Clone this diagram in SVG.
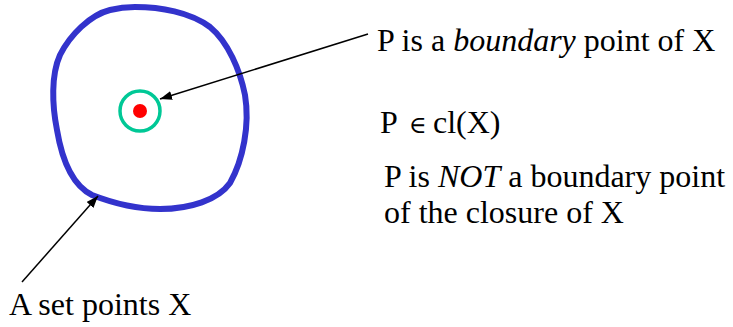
<svg xmlns="http://www.w3.org/2000/svg" width="733" height="327" viewBox="0 0 733 327">
<defs>
<style>
text{font-family:'Liberation Serif','DejaVu Serif',serif;font-size:32px;fill:#000}
.conn{stroke:#000;stroke-width:1.5;fill:none;marker-end:url(#ah)}
</style>
<marker id="ah" markerUnits="userSpaceOnUse" markerWidth="14" markerHeight="10" refX="12" refY="4.5" orient="auto">
<path d="M0,0 L12,4.5 L0,9 Z" fill="#000"/>
</marker>
</defs>
<rect width="733" height="327" fill="#fff"/>
<g id="setX">
<path d="M135,7 C160,7 190,12 210,27 C228,42 240,70 245,95 C250,125 243,160 230,183 C218,200 190,209 160,209 C135,209 110,202 92,195 C72,185 62,160 57,130 C52,105 51,75 60,55 C70,35 90,15 110,10 C118,8 126,7 135,7 Z" fill="none" stroke="#3333cc" stroke-width="6"/>
</g>
<g id="pointP">
<circle cx="140" cy="111" r="20" fill="none" stroke="#00c896" stroke-width="3.5"/>
<circle cx="140" cy="111" r="7" fill="#ff0000"/>
</g>
<g id="connectors">
<line class="conn" x1="368" y1="34" x2="160" y2="99"/>
<line class="conn" x1="22" y1="282" x2="98" y2="196"/>
</g>
<g id="label-boundary">
<text x="377" y="51" font-family="Liberation Serif, DejaVu Serif, serif">P is a <tspan font-style="italic">boundary</tspan> point of X</text>
</g>
<g id="label-closure">
<text x="380" y="133" font-family="Liberation Serif, DejaVu Serif, serif">P <tspan x="409" font-size="24">∈</tspan><tspan x="433">cl(X)</tspan></text>
</g>
<g id="label-not">
<text x="384" y="187" font-family="Liberation Serif, DejaVu Serif, serif">P is <tspan font-style="italic">NOT</tspan> a boundary point</text>
<text x="384" y="223" font-family="Liberation Serif, DejaVu Serif, serif">of the closure of X</text>
</g>
<g id="label-set">
<text x="9" y="315" font-family="Liberation Serif, DejaVu Serif, serif">A set points X</text>
</g>
</svg>
